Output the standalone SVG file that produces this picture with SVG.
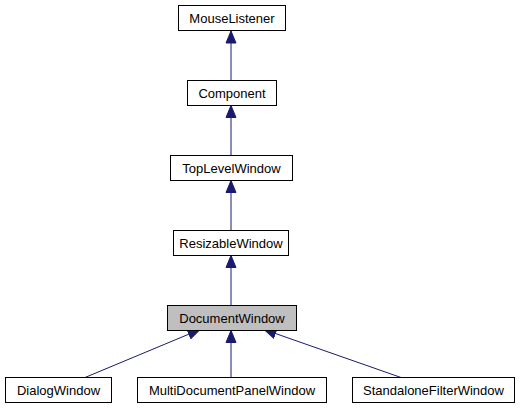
<svg xmlns="http://www.w3.org/2000/svg" width="520" height="411" viewBox="0 0 520 411">
<style>
.box{fill:#ffffff;stroke:#000000;stroke-width:1}
.cur{fill:#bfbfbf;stroke:#000000;stroke-width:1}
.lbl{font-family:"Liberation Sans",Arial,sans-serif;font-size:13px;fill:#000000;text-anchor:middle}
.edge{fill:none;stroke:#191970;stroke-width:1}
</style>
<defs>
<marker id="ah" markerUnits="userSpaceOnUse" markerWidth="14" markerHeight="12" viewBox="0 -6 13 12" refX="12" refY="0" orient="auto">
<path d="M0,-5 L12,0 L0,5 Z" fill="#191970" stroke="#191970" stroke-width="1"/>
</marker>
</defs>
<rect width="520" height="411" fill="#ffffff"/>
<g id="edges">
<path class="edge" d="M231,80.5 L231,31" marker-end="url(#ah)"/>
<path class="edge" d="M231,155.5 L231,105.5" marker-end="url(#ah)"/>
<path class="edge" d="M231,230.5 L231,180.5" marker-end="url(#ah)"/>
<path class="edge" d="M231,305.5 L231,255.5" marker-end="url(#ah)"/>
<path class="edge" d="M85,377.5 L200,329.5" marker-end="url(#ah)"/>
<path class="edge" d="M231,377.5 L231,330.5" marker-end="url(#ah)"/>
<path class="edge" d="M401,377.5 L264,329.5" marker-end="url(#ah)"/>
</g>
<g id="MouseListener"><rect class="box" x="178.5" y="5.5" width="107" height="25"/><text class="lbl" x="232" y="22.5">MouseListener</text></g>
<g id="Component"><rect class="box" x="187.5" y="80.5" width="89" height="25"/><text class="lbl" x="232" y="97.5">Component</text></g>
<g id="TopLevelWindow"><rect class="box" x="170.5" y="155.5" width="122" height="25"/><text class="lbl" x="231.5" y="172.5">TopLevelWindow</text></g>
<g id="ResizableWindow"><rect class="box" x="173.5" y="230.5" width="115" height="25"/><text class="lbl" x="231" y="247.5">ResizableWindow</text></g>
<g id="DocumentWindow"><rect class="cur" x="167.5" y="305.5" width="129" height="25"/><text class="lbl" x="232" y="322.5">DocumentWindow</text></g>
<g id="DialogWindow"><rect class="box" x="5.5" y="377.5" width="106" height="25"/><text class="lbl" x="58.5" y="394.5">DialogWindow</text></g>
<g id="MultiDocumentPanelWindow"><rect class="box" x="137.5" y="377.5" width="189" height="25"/><text class="lbl" x="232" y="394.5">MultiDocumentPanelWindow</text></g>
<g id="StandaloneFilterWindow"><rect class="box" x="352.5" y="377.5" width="162" height="25"/><text class="lbl" x="433.5" y="394.5">StandaloneFilterWindow</text></g>
</svg>
